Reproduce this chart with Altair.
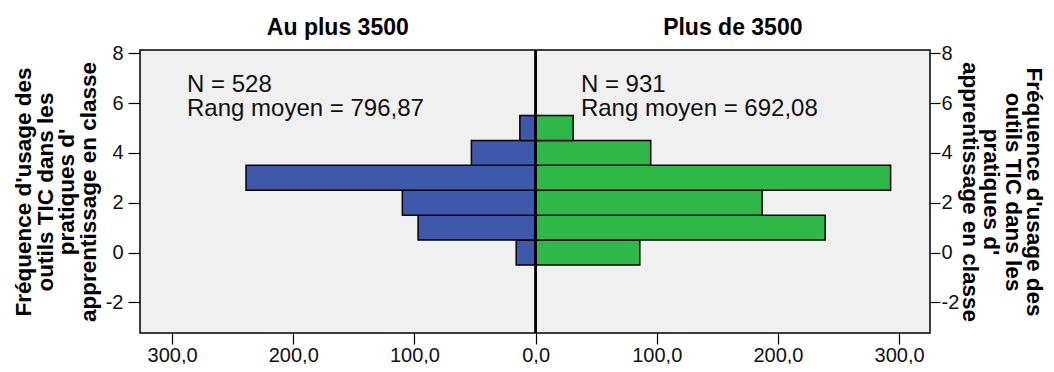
import altair as alt
import pandas as pd

# ---- data ----
categories = [0, 1, 2, 3, 4, 5]
group_names = ["Au plus 3500", "Plus de 3500"]
counts_low = [16, 97, 110, 239, 53, 13]      # Au plus 3500 (left, blue)
counts_high = [86, 239, 187, 293, 95, 31]    # Plus de 3500 (right, green)
n_values = [528, 931]
mean_ranks = ["796,87", "692,08"]
y_ticks = [-2, 0, 2, 4, 6, 8]
x_ticks = [-300, -200, -100, 0, 100, 200, 300]
y_title = ["Fréquence d'usage des", "outils TIC dans les", "pratiques d'", "apprentissage en classe"]

rows = []
for c, a, b in zip(categories, counts_low, counts_high):
    rows.append({"cat": c, "group": group_names[0], "signed": -a})
    rows.append({"cat": c, "group": group_names[1], "signed": b})
df = pd.DataFrame(rows)

X_DOMAIN = [-326.5, 325.5]
Y_DOMAIN = [-3.23, 8.13]
FONT = "Liberation Sans"
W, H = 790, 283

ann = pd.DataFrame({
    "x": [-287.7, 37.4],
    "y": [6.455, 6.455],
    "text": [f"N = {n}\nRang moyen = {r}" for n, r in zip(n_values, mean_ranks)],
})
titles = pd.DataFrame({
    "x": [(X_DOMAIN[0]) / 2, (X_DOMAIN[1]) / 2],
    "text": group_names,
})

x_scale = alt.Scale(domain=X_DOMAIN, nice=False, zero=False)
y_scale = alt.Scale(domain=Y_DOMAIN, nice=False, zero=False)

label_style = dict(
    labelFont=FONT, labelFontSize=20, labelColor="#111111",
    tickColor="black", tickWidth=1.2, domain=False, grid=False,
    labelFlush=False, labelOverlap=False,
)
title_style = dict(
    titleFont=FONT, titleFontSize=22.5, titleFontWeight="bold", titleColor="black",
    titleLineHeight=21.5,
)

x_axis = alt.Axis(
    values=x_ticks, title=None, tickSize=11, labelPadding=1,
    labelExpr="replace(format(abs(datum.value), '.1f'), '.', ',')",
    **label_style,
)


def x_enc(field):
    return alt.X(field, scale=x_scale, axis=x_axis)


bars = alt.Chart(df).transform_calculate(
    y0="datum.cat - 0.5", y1="datum.cat + 0.5"
).mark_bar(stroke="black", strokeWidth=1.5).encode(
    x=x_enc("signed:Q"),
    x2=alt.datum(0),
    y=alt.Y("y0:Q", scale=y_scale,
            axis=alt.Axis(orient="left", values=y_ticks, title=y_title,
                          tickSize=12, labelPadding=5, titlePadding=5,
                          labelExpr="'' + datum.value",
                          **label_style, **title_style)),
    y2="y1:Q",
    color=alt.Color("group:N", scale=alt.Scale(domain=group_names, range=["#3E58AC", "#2EB848"]),
                    legend=None),
)

center = alt.Chart(df).mark_rule(color="black", strokeWidth=1.5).encode(
    x=alt.X(datum=0, scale=x_scale, axis=x_axis),
    y=alt.Y(datum=Y_DOMAIN[0], scale=y_scale,
            axis=alt.Axis(orient="right", values=y_ticks, title=y_title,
                          tickSize=10, labelPadding=1, titlePadding=-1.5,
                          labelExpr="'' + datum.value",
                          **label_style, **title_style)),
    y2=alt.datum(Y_DOMAIN[1]),
)

notes = alt.Chart(ann).mark_text(
    align="left", baseline="alphabetic", font=FONT, fontSize=24, lineHeight=24.5,
    color="#111111", lineBreak="\n",
).encode(
    x=x_enc("x:Q"),
    y=alt.Y("y:Q", scale=y_scale, axis=None),
    text="text:N",
)

heads = alt.Chart(titles).mark_text(
    align="center", baseline="alphabetic", font=FONT, fontSize=23, fontWeight="bold",
    color="black",
).encode(
    x=x_enc("x:Q"),
    y=alt.value(-15.5),
    text="text:N",
)

chart = alt.layer(bars, center, notes, heads).resolve_axis(y="independent").properties(
    width=W, height=H,
    autosize=alt.AutoSizeParams(type="none"),
    padding={"left": 132, "top": 42, "right": 116, "bottom": 31},
    background="white",
).configure_view(
    fill="#F0F0F0", stroke="black", strokeWidth=1.5,
)

chart.save("out.html", embed_options={"renderer": "svg", "actions": False})
